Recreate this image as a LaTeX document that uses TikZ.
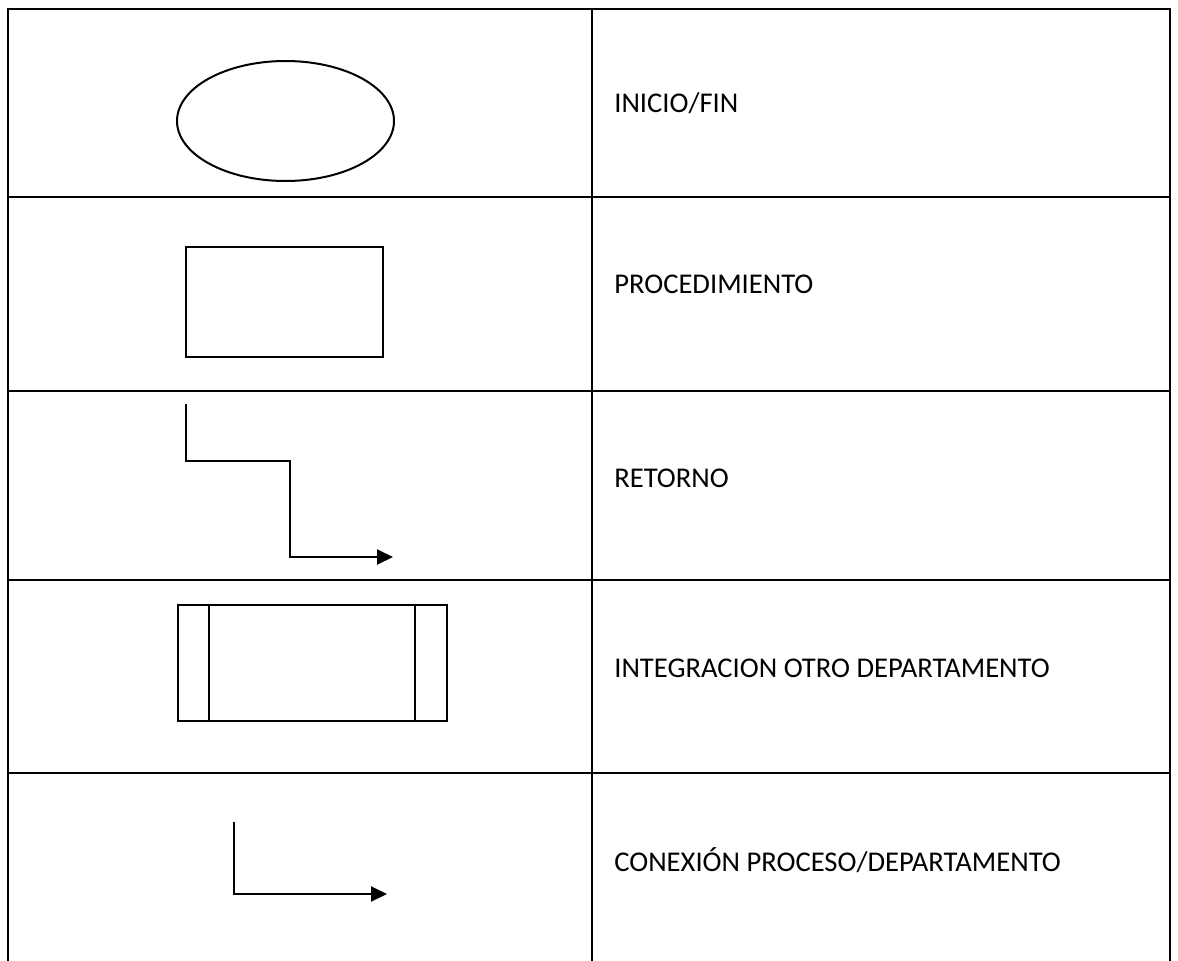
\documentclass[tikz,border=0pt]{standalone}
\usepackage{fontspec}
\setmainfont{Carlito}
\usetikzlibrary{shapes.geometric,arrows.meta}

\tikzset{
    symbol/.style={draw, line width=2pt, inner sep=0pt},
    caption/.style={anchor=base west, inner sep=0pt, font=\fontsize{28.6}{34}\selectfont},
    flow/.style={line width=2pt, -{Triangle[length=16pt,width=15pt]}}
}

\begin{document}
\begin{tikzpicture}[
    x=1pt, y=-1pt,
    line width=2.6pt,
    line cap=rect,
    line join=miter
]
\useasboundingbox (0,0) rectangle (1178,961);

% 1. Grid of the table
\foreach \yrow in {9,197,391,580,773}
    \draw (8,\yrow) -- (1170,\yrow);
\foreach \xcol in {8,592,1170}
    \draw (\xcol,9) -- (\xcol,961);

% 2. Start / end
\node[symbol, ellipse, minimum width=217pt, minimum height=120pt] (inicio) at (285.5,121) {};
\node[caption] (tinicio) at (613,112) {INICIO/FIN};

% 3. Procedure
\node[symbol, rectangle, minimum width=197pt, minimum height=110pt] (proc) at (284,302) {};
\node[caption] (tproc) at (613,293) {PROCEDIMIENTO};

% 4. Return
\coordinate (ret0) at (186,405);
\coordinate (ret1) at (186,461);
\coordinate (ret2) at (290,461);
\coordinate (ret3) at (290,557);
\coordinate (ret4) at (393,557);
\draw[flow] (ret0) -- (ret1) -- (ret2) -- (ret3) -- (ret4);
\node[caption] (tret) at (613,487) {RETORNO};

% 5. Other department
\node[symbol, rectangle, minimum width=269pt, minimum height=116pt] (dept) at (312.5,663) {};
\draw[line width=2pt, line cap=butt] ([xshift=32pt]dept.north west) -- ([xshift=32pt]dept.south west);
\draw[line width=2pt, line cap=butt] ([xshift=-33pt]dept.north east) -- ([xshift=-33pt]dept.south east);
\node[caption] (tdept) at (613,677) {INTEGRACION OTRO DEPARTAMENTO};

% 6. Connection
\coordinate (con0) at (234,823);
\coordinate (con1) at (234,894);
\coordinate (con2) at (387,894);
\draw[flow] (con0) -- (con1) -- (con2);
\node[caption] (tcon) at (613,871) {CONEXIÓN PROCESO/DEPARTAMENTO};
\end{tikzpicture}
\end{document}
